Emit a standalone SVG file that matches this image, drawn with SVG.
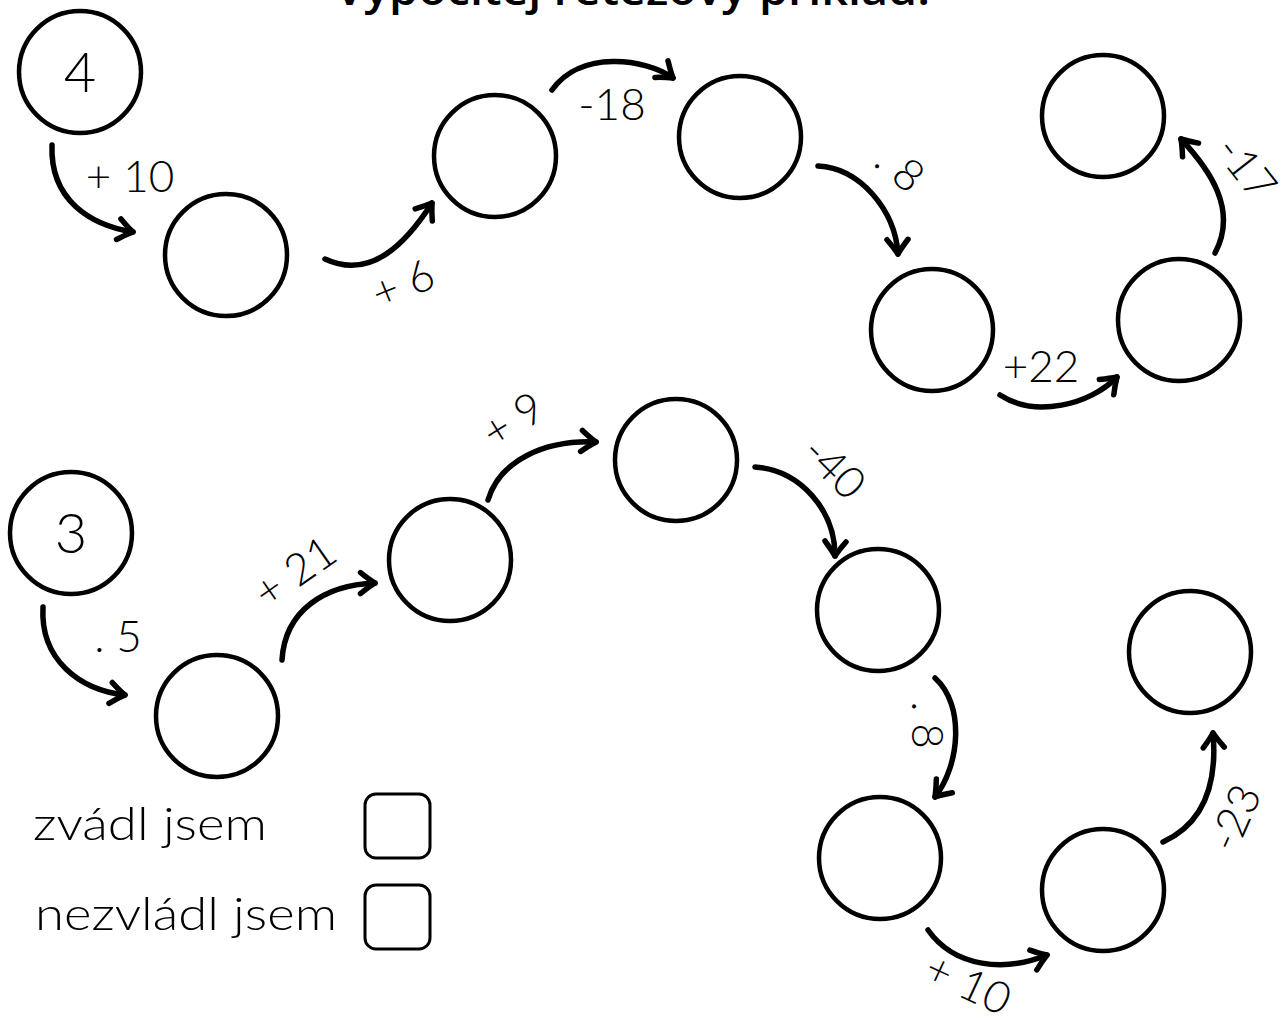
<svg xmlns="http://www.w3.org/2000/svg" width="1286" height="1018" viewBox="0 0 1286 1018">
<style>
.n{fill:#fff;stroke:#000;stroke-width:4.5}
.c{fill:none;stroke:#000;stroke-width:5.5;stroke-linecap:round;marker-end:url(#ah)}
.lb{font-family:Lato,"Liberation Sans",sans-serif;font-size:44px;font-weight:300;fill:#000;text-anchor:middle}
.num{font-family:Lato,"Liberation Sans",sans-serif;font-size:56px;font-weight:300;fill:#000;text-anchor:middle}
.lg{font-family:Lato,"Liberation Sans",sans-serif;font-size:46px;font-weight:300;fill:#000}
.box{fill:none;stroke:#000;stroke-width:3}
</style>
<defs>
<marker id="ah" markerUnits="userSpaceOnUse" markerWidth="40" markerHeight="40" refX="0" refY="0" viewBox="-20 -20 40 40" orient="auto" overflow="visible">
<path d="M -14 -11 Q -6 -4 0 0 Q -7 4 -15 10" fill="none" stroke="#000" stroke-width="5.5" stroke-linecap="round" stroke-linejoin="round"/>
</marker>
</defs>
<rect width="1286" height="1018" fill="#fff"/>
<text x="335" y="5" textLength="595" lengthAdjust="spacingAndGlyphs" style="font-family:'Open Sans','Liberation Sans',sans-serif;font-size:44px;font-weight:600">Vypočítej řetězový příklad:</text>

<g id="connectors">
<path class="c" d="M 52 145 C 50 200, 90 225, 133 232"/>
<path class="c" d="M 325 259 C 370 280, 405 245, 432 203"/>
<path class="c" d="M 552 90 C 580 50, 645 58, 673 78"/>
<path class="c" d="M 818 166 C 860 168, 895 210, 898 254"/>
<path class="c" d="M 1000 395 C 1035 418, 1090 405, 1117 377"/>
<path class="c" d="M 1215 253 C 1238 210, 1210 170, 1181 139"/>
<path class="c" d="M 43 607 C 40 660, 80 690, 125 695"/>
<path class="c" d="M 282 660 C 285 610, 325 585, 375 583"/>
<path class="c" d="M 488 500 C 500 460, 545 440, 596 442"/>
<path class="c" d="M 755 467 C 800 470, 835 510, 835 556"/>
<path class="c" d="M 935 678 C 965 705, 960 765, 935 797"/>
<path class="c" d="M 928 930 C 955 968, 1005 972, 1047 955"/>
<path class="c" d="M 1163 842 C 1200 825, 1218 790, 1213 733"/>
</g>

<g id="labels">
<text class="lb" x="130" y="192">+ 10</text>
<text class="lb" transform="translate(403,284) rotate(-22)" y="15">+ 6</text>
<text class="lb" x="612" y="120">-18</text>
<text class="lb" transform="translate(900,168) rotate(40)" y="15">. 8</text>
<text class="lb" x="1041" y="382">+22</text>
<text class="lb" transform="translate(1246,168) rotate(52)" y="15">-17</text>
<text class="lb" x="118" y="652">. 5</text>
<text class="lb" transform="translate(295,572) rotate(-35)" y="15">+ 21</text>
<text class="lb" transform="translate(513,420) rotate(-32)" y="15">+ 9</text>
<text class="lb" transform="translate(834,468) rotate(45)" y="15">-40</text>
<text class="lb" transform="translate(927,725) rotate(90)" y="15">. 8</text>
<text class="lb" transform="translate(968,984) rotate(25)" y="15">+ 10</text>
<text class="lb" transform="translate(1235,818) rotate(-66)" y="15">-23</text>
</g>

<g id="n-a1"><circle class="n" cx="80" cy="72" r="61"/><text class="num" x="80" y="92">4</text></g>
<g id="n-a2"><circle class="n" cx="226" cy="255" r="61"/></g>
<g id="n-a3"><circle class="n" cx="495" cy="156" r="61"/></g>
<g id="n-a4"><circle class="n" cx="740" cy="137" r="61"/></g>
<g id="n-a5"><circle class="n" cx="932" cy="330" r="61"/></g>
<g id="n-a6"><circle class="n" cx="1179" cy="320" r="61"/></g>
<g id="n-a7"><circle class="n" cx="1103" cy="116" r="61"/></g>

<g id="n-b1"><circle class="n" cx="71" cy="533" r="61"/><text class="num" x="71" y="553">3</text></g>
<g id="n-b2"><circle class="n" cx="217" cy="716" r="61"/></g>
<g id="n-b3"><circle class="n" cx="450" cy="560" r="61"/></g>
<g id="n-b4"><circle class="n" cx="676" cy="460" r="61"/></g>
<g id="n-b5"><circle class="n" cx="878" cy="610" r="61"/></g>
<g id="n-b6"><circle class="n" cx="880" cy="858" r="61"/></g>
<g id="n-b7"><circle class="n" cx="1103" cy="890" r="61"/></g>
<g id="n-b8"><circle class="n" cx="1190" cy="652" r="61"/></g>

<g id="legend-1"><text class="lg" x="33" y="840" textLength="234" lengthAdjust="spacingAndGlyphs">zvádl jsem</text><rect class="box" x="365" y="794" width="65" height="64" rx="11"/></g>
<g id="legend-2"><text class="lg" x="35" y="930" textLength="302" lengthAdjust="spacingAndGlyphs">nezvládl jsem</text><rect class="box" x="365" y="885" width="65" height="64" rx="11"/></g>
</svg>
